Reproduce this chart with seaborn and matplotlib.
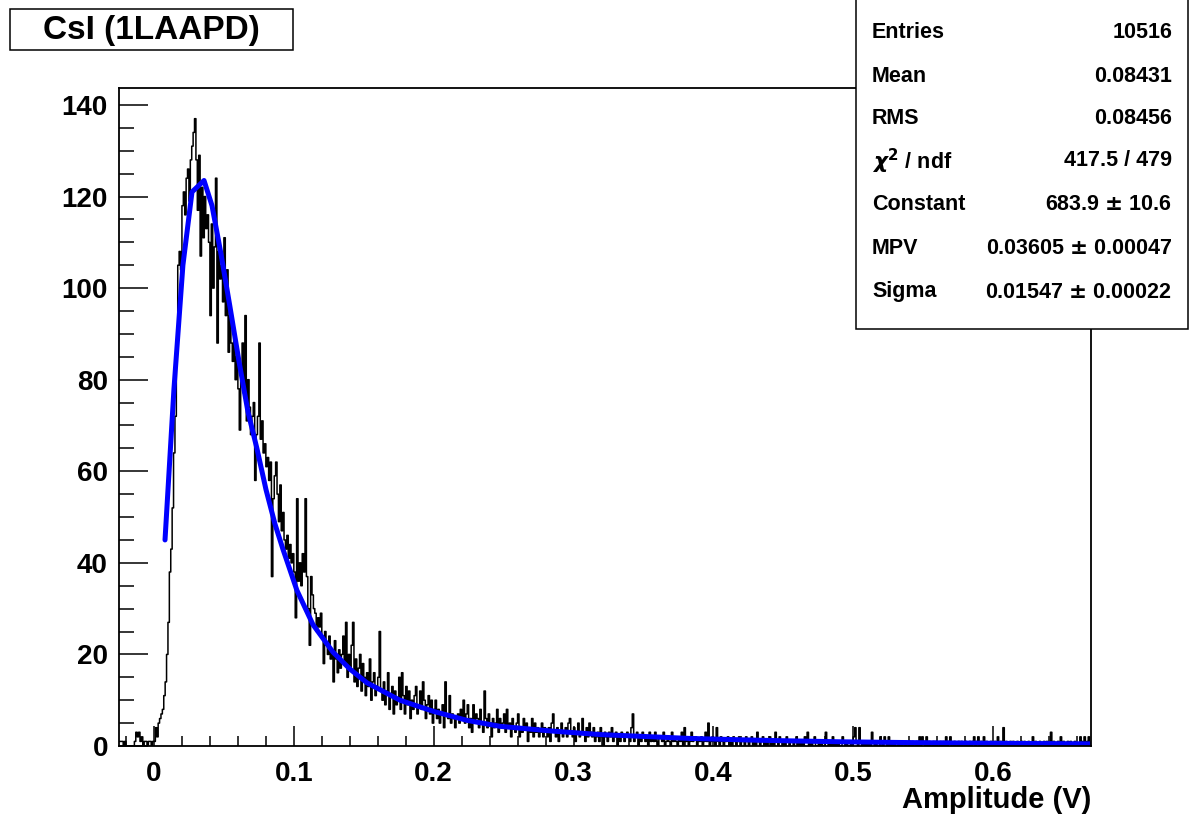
import numpy as np
import matplotlib
matplotlib.use("Agg")
import matplotlib.pyplot as plt
import seaborn as sns
from matplotlib.patches import Rectangle
from matplotlib.ticker import MultipleLocator, FuncFormatter

# histogram: 0.001 V bins from -0.025 to 0.670 V
x_min, x_max, n_bins = -0.025, 0.670, 695

counts_below_zero = [1, 1, 1, 0, 1, 0, 0, 0, 0, 0, 0, 1, 3, 2, 3, 1, 2, 0, 1, 1, 0, 1, 1, 0, 1]
counts_rise = [1, 4, 2, 5, 6, 7, 8, 11, 14, 20, 27, 38, 43, 52, 64, 72, 88, 105, 108, 104,
               118, 121, 116, 124, 126, 119, 128, 131, 134, 137, 128, 117, 129, 107, 122, 111]
counts_fall = [120, 113, 116, 110, 94, 114, 100, 109, 124, 88, 108, 102, 105, 97, 111, 94,
               104, 86, 94, 88, 84, 90, 80, 85, 78, 69, 80, 88, 77, 94, 71, 80, 74, 68, 72, 75,
               58, 68, 72, 88, 67, 71, 64, 66, 61, 63, 58, 62,
               37, 54, 59, 62, 55, 49, 57, 47, 51, 45, 43, 46, 41, 44, 40, 42, 38, 28, 54, 36,
               40, 35, 42, 38, 54, 37, 30, 22, 37, 33, 30, 29, 25, 28, 26, 29, 24, 18, 25, 22,
               20, 24, 19, 21, 14, 23, 19, 16, 21, 17, 20, 24, 18, 27, 15, 20]
counts_mid = [17, 22, 27, 14, 19, 13, 17, 20, 12, 18, 15, 11, 16, 13, 19, 10, 14, 16, 11, 13,
              15, 25, 12, 10, 14, 9, 12, 16, 8, 11, 13, 7, 12, 9, 10, 15, 8, 16, 11, 7,
              13, 9, 12, 6, 10, 8, 11, 13, 7, 9, 12, 8, 14, 10, 6, 9, 11, 7, 10, 5,
              8, 10, 6, 8, 5, 7, 9, 4, 14, 7, 6, 11, 5, 7, 6, 4, 6,
              7, 5, 8, 6, 10, 5, 7, 9, 4, 6, 3, 9, 5, 7, 6, 4, 8, 5, 3, 12,
              6, 4, 7, 5, 2, 6, 4, 5, 8, 3, 6, 4, 5, 7, 3, 8, 4, 5, 2, 6,
              4, 3, 5, 7, 2, 4, 3, 6, 4, 5, 1, 4, 3, 6, 2, 5, 3, 4, 2, 3, 5, 2, 4]
counts_tail = [3, 2, 4, 1, 5, 7, 3, 2, 4, 1, 3, 5, 2, 3, 4, 2, 5, 6, 3, 2,
               4, 1, 3, 5, 2, 3, 6, 3, 1, 4, 2, 5, 3, 2, 4, 1,
               2, 3, 1, 4, 2, 0, 3, 2, 1, 3, 2, 4, 1, 2, 3, 0, 2, 1, 3, 2,
               1, 2, 3, 2, 1, 4, 7, 1, 2, 3, 0, 2, 1, 3, 2, 1, 2, 0, 3, 1,
               2, 1, 3, 1, 0, 2, 2, 1, 3, 0, 1, 2, 1, 0, 3, 1, 2, 1, 0, 2,
               1, 3, 0, 4, 1, 2, 0, 1, 3, 1, 2,
               2, 0, 1, 1, 2, 0, 1, 3, 1, 5, 0, 1, 2, 1, 0, 4, 1, 0, 2, 1,
               0, 1, 1, 2, 0, 1, 0, 2, 1, 0, 1, 2, 0, 1, 1, 0, 2, 1, 0, 1,
               2, 0, 1, 0, 3, 1, 0, 1, 2, 0, 1, 0, 1, 2, 0, 1, 0, 3, 1, 0,
               2, 1, 0, 1, 0, 2, 1, 0, 1, 1,
               0, 1, 2, 0, 1, 0, 1, 0, 2, 1, 3, 0, 1, 0, 1, 2, 0, 0, 1, 0,
               1, 0, 0, 3, 1, 0, 1, 0, 2, 0, 1, 0, 1, 0, 0, 2, 1, 0, 1, 0,
               0, 1, 0, 2, 4, 1, 0, 4, 1, 0, 1, 0, 1, 0, 1, 0, 3, 1, 0, 1,
               0, 0, 2, 1, 0, 2, 1, 0, 2, 0,
               1, 0, 1, 0, 0, 1, 0, 1, 0, 0, 1, 0, 0, 1, 0, 1, 0, 0, 1, 0,
               2, 0, 2, 1, 0, 2, 0, 1, 0, 0, 1, 0, 1, 0, 0, 1, 0, 1, 0, 2,
               0, 1, 2, 0, 0, 1, 0, 0, 1, 0, 1, 0, 0, 1, 0, 0, 1, 0, 1, 2,
               0, 1, 2, 0, 1, 0, 2, 0, 1, 0,
               0, 1, 0, 0, 1, 0, 2, 0, 1, 0, 4, 0, 1, 0, 0, 1, 0, 1, 0, 0,
               1, 0, 0, 1, 0, 1, 0, 0, 1, 0, 0, 2, 0, 1, 0, 0, 1, 0, 0, 1,
               0, 1, 0, 0, 3, 0, 1, 0, 0, 1, 0, 2, 0, 1, 0, 0, 1, 0, 1, 0,
               0, 1, 0, 0, 0, 2, 1, 0, 2, 0, 1, 2, 0]

counts = counts_below_zero + counts_rise + counts_fall + counts_mid + counts_tail

# Landau fit curve
fit_x = [0.0079, 0.0143, 0.0207, 0.0272, 0.0358, 0.0415, 0.0479, 0.0543, 0.0608, 0.0672,
         0.0736, 0.0801, 0.0865, 0.0922, 0.1022, 0.1137, 0.1280, 0.1401, 0.1523, 0.1759,
         0.1995, 0.2238, 0.2474, 0.2831, 0.3189, 0.3832, 0.4333, 0.4905, 0.5477, 0.6049, 0.6700]
fit_y = [45, 78, 105, 121, 123.5, 118, 107.5, 96, 84, 73,
         65, 56, 48.5, 43, 34, 26.5, 20.5, 16.8, 13.8, 10,
         7.6, 5.6, 4.3, 3.3, 2.5, 1.65, 1.25, 0.92, 0.72, 0.58, 0.47]

stat_names = ["Entries", "Mean", "RMS", r"$\chi^{\mathbf{2}}$ / ndf", "Constant", "MPV", "Sigma"]
stat_values = ["10516", "0.08431", "0.08456", "417.5 / 479",
               r"683.9 $\pm$ 10.6", r"0.03605 $\pm$ 0.00047", r"0.01547 $\pm$ 0.00022"]

sns.set_theme(style="white")
plt.rcParams["font.family"] = ["Liberation Sans", "DejaVu Sans"]
plt.rcParams["font.weight"] = "bold"
plt.rcParams["mathtext.fontset"] = "dejavusans"
plt.rcParams["text.color"] = "black"
plt.rcParams["xtick.color"] = "black"
plt.rcParams["ytick.color"] = "black"
plt.rcParams["axes.labelcolor"] = "black"

W, H = 1189, 816
fig = plt.figure(figsize=(W / 100, H / 100), dpi=100)
ax = fig.add_axes([119 / W, 1 - 746 / H, (1091 - 119) / W, (746 - 88) / H])

edges = np.linspace(x_min, x_max, n_bins + 1)
centers = (edges[:-1] + edges[1:]) / 2
sns.histplot(x=centers, weights=counts, bins=list(edges), element="step", fill=False,
             color="black", linewidth=1.1, ax=ax)
sns.lineplot(x=fit_x, y=fit_y, color="#0000ff", linewidth=3.6, ax=ax)

ax.set_xlim(x_min, x_max)
ax.set_ylim(0, 143.7)
ax.set_xlabel("")
ax.set_ylabel("")
ax.xaxis.set_major_locator(MultipleLocator(0.1))
ax.xaxis.set_minor_locator(MultipleLocator(0.02))
ax.yaxis.set_major_locator(MultipleLocator(20))
ax.yaxis.set_minor_locator(MultipleLocator(5))
ax.xaxis.set_major_formatter(FuncFormatter(lambda v, p: f"{v:.1f}" if abs(v) > 1e-9 else "0"))
ax.tick_params(axis="x", which="major", direction="in", length=14.5, width=1.1,
               labelsize=20, pad=11, bottom=True, top=False, colors="black")
ax.tick_params(axis="x", which="minor", direction="in", length=7.2, width=1.1,
               bottom=True, top=False, colors="black")
ax.tick_params(axis="y", which="major", direction="in", length=21, width=1.1,
               labelsize=20, pad=8, left=True, right=False, colors="black")
ax.tick_params(axis="y", which="minor", direction="in", length=10.8, width=1.1,
               left=True, right=False, colors="black")
for lab in ax.get_xticklabels() + ax.get_yticklabels():
    lab.set_fontweight("bold")
for s in ax.spines.values():
    s.set_linewidth(1.3)
    s.set_color("black")

fig.text(1091 / W, 1 - 800 / H, "Amplitude (V)", ha="right", va="center",
         fontsize=21, fontweight="bold", color="black")

# title box
fig.patches.append(Rectangle((10 / W, 1 - 50 / H), 283 / W, 41 / H, transform=fig.transFigure,
                             facecolor="white", edgecolor="black", linewidth=1.1))
fig.text(151 / W, 1 - 30 / H, "CsI (1LAAPD)", ha="center", va="center",
         fontsize=24, fontweight="bold", color="black")

# stats box
fig.patches.append(Rectangle((856 / W, 1 - 329 / H), 332 / W, 330 / H, transform=fig.transFigure,
                             facecolor="white", edgecolor="black", linewidth=1.1, zorder=5))
row_y = [33, 77, 119, 161, 204, 248, 292]
for name, val, yy in zip(stat_names, stat_values, row_y):
    fig.text(872 / W, 1 - yy / H, name, ha="left", va="center", fontsize=15.5,
             fontweight="bold", color="black", zorder=6)
    fig.text(1172 / W, 1 - yy / H, val, ha="right", va="center", fontsize=15.5,
             fontweight="bold", color="black", zorder=6)

fig.savefig("out.png", dpi=100)
